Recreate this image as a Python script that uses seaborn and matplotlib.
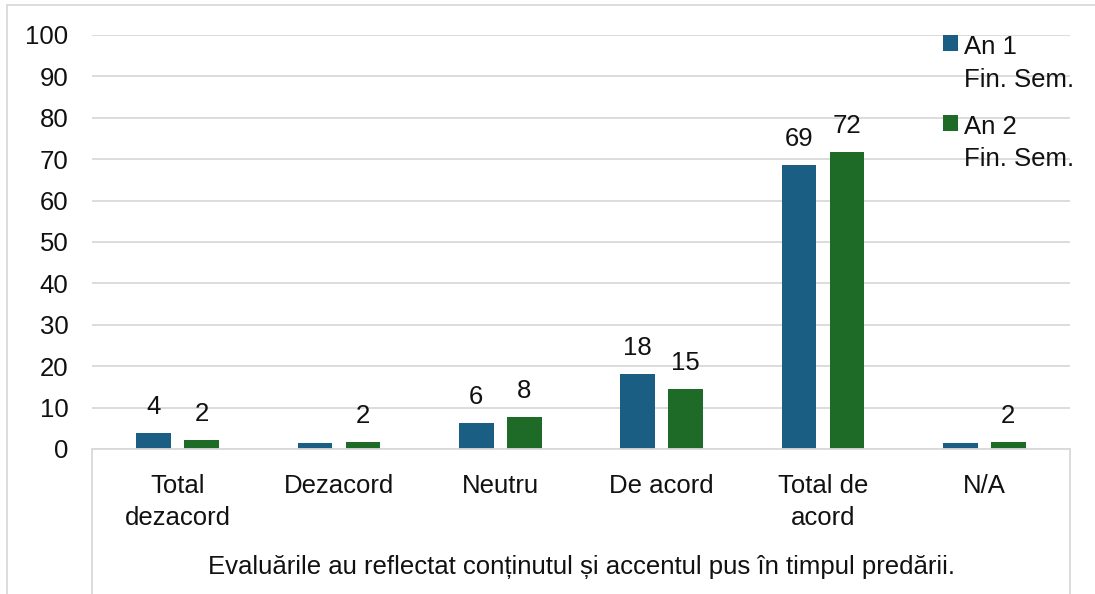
import numpy as np
import pandas as pd
import matplotlib.pyplot as plt
import seaborn as sns
from matplotlib.lines import Line2D

# data
categories = ["Total\ndezacord", "Dezacord", "Neutru", "De acord", "Total de\nacord", "N/A"]
series = ["An 1\nFin. Sem.", "An 2\nFin. Sem."]
an1_values = [3.9, 1.5, 6.3, 18.1, 68.6, 1.5]
an2_values = [2.2, 1.7, 7.7, 14.5, 71.7, 1.8]
an1_labels = ["4", "", "6", "18", "69", ""]
an2_labels = ["2", "2", "8", "15", "72", "2"]
y_ticks = list(range(0, 101, 10))
caption = "Evaluările au reflectat conținutul și accentul pus în timpul predării."

colors = ["#1A5E83", "#1E6B27"]
grid_color = "#D9D9D9"
text_color = "#111111"
fs = 18.5

df = pd.DataFrame({
    "categorie": categories * 2,
    "serie": [series[0]] * len(categories) + [series[1]] * len(categories),
    "valoare": an1_values + an2_values,
})

sns.set_theme(style="white")
plt.rcParams['font.family'] = ['Liberation Sans', 'DejaVu Sans']

W, H = 1095, 594
fig = plt.figure(figsize=(W / 100, H / 100), dpi=100)
ax = fig.add_axes([92 / W, 1 - 449 / H, (1070 - 92) / W, (449 - 35) / H])

sns.barplot(data=df, x="categorie", y="valoare", hue="serie", palette=colors,
            width=0.595, gap=0.28, saturation=1, linewidth=0, errorbar=None, ax=ax)

for container, labels in zip(ax.containers, [an1_labels, an2_labels]):
    ax.bar_label(container, labels=labels, padding=10, fontsize=fs, color=text_color)

ax.set_ylim(0, 100)
ax.set_yticks(y_ticks)
ax.set_xlabel("")
ax.set_ylabel("")
ax.tick_params(axis='y', length=0, pad=17, labelsize=fs, labelcolor=text_color)
ax.tick_params(axis='x', length=0, pad=18, labelsize=fs, labelcolor=text_color)
for lbl in ax.get_xticklabels():
    lbl.set_linespacing(1.4)
ax.grid(axis='y', color=grid_color, lw=1.3)
ax.set_axisbelow(True)
for side in ["top", "left", "right"]:
    ax.spines[side].set_visible(False)
ax.spines["bottom"].set_color(grid_color)
ax.spines["bottom"].set_linewidth(1.3)

# multi-level category frame and caption
for x in (0, 1):
    ax.plot([x, x], [0, -0.36], transform=ax.transAxes, clip_on=False,
            color=grid_color, lw=1.3)
ax.text(0.5, -0.285, caption, transform=ax.transAxes, ha='center', va='center',
        fontsize=fs, color=text_color)

# chart border
fig.add_artist(Line2D([7 / W, 7 / W], [0, 1 - 5 / H], color=grid_color, lw=1.3))
fig.add_artist(Line2D([7 / W, 1], [1 - 5 / H, 1 - 5 / H], color=grid_color, lw=1.3))

handles, labels = ax.get_legend_handles_labels()
leg = ax.legend(handles, labels, loc='upper left', bbox_to_anchor=(943 / W, 1 - 35 / H),
                bbox_transform=fig.transFigure, frameon=False, fontsize=fs,
                handlelength=0.6, handleheight=0.6, handletextpad=0.2,
                labelspacing=0.9, borderpad=0, borderaxespad=0, labelcolor=text_color)
for t in leg.get_texts():
    t.set_linespacing(1.45)
# square next to the first line of each entry, as in the reference
for column in leg._legend_handle_box.get_children():
    for row in column.get_children():
        row.align = "top"

fig.savefig("out.png", dpi=100)
